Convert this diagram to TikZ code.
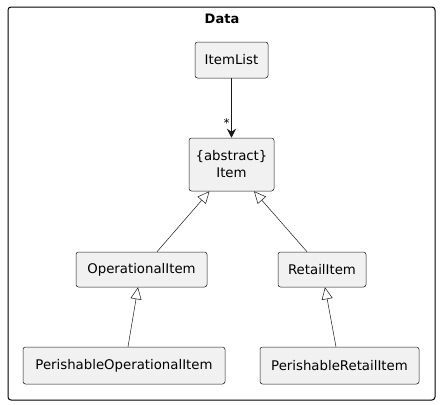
\documentclass[tikz,border=0pt]{standalone}
\usepackage{fontspec}
\setmainfont{DejaVu Sans}
\usetikzlibrary{arrows.meta}
\definecolor{boxfill}{HTML}{F1F1F1}
\definecolor{boxline}{HTML}{181818}
\begin{document}
\begin{tikzpicture}[x=1pt,y=-1pt,
  cls/.style={draw=boxline, fill=boxfill, line width=0.5pt, rounded corners=2.5pt,
    inner sep=0pt, font=\fontsize{13.3}{17}\selectfont, align=center},
  assoc/.style={draw=boxline, line width=1pt, -{Stealth[length=9pt,width=9pt,inset=3pt]}},
  inherit/.style={draw=boxline, line width=0.5pt, -{Triangle[open,length=12pt,width=11pt,fill=white]}}]
\useasboundingbox (0,0) rectangle (440,405);
\node[draw=black, line width=1pt, rounded corners=3pt, minimum width=427pt, minimum height=393pt, inner sep=0pt] (frame) at (221.5,203.5) {};
\node[font=\bfseries\fontsize{13}{15}\selectfont] (title) at (222,19) {Data};
\node[cls, minimum width=73pt, minimum height=36pt] (itemlist) at (231.5,60) {ItemList};
\node[cls, minimum width=85pt, minimum height=53pt] (item) at (231.5,164.5) {\{abstract\}\\Item};
\node[cls, minimum width=131pt, minimum height=35pt] (opi) at (141.5,269.5) {OperationalItem};
\node[cls, minimum width=88pt, minimum height=35pt] (ri) at (322,269.5) {RetailItem};
\node[cls, minimum width=202pt, minimum height=37pt] (popi) at (124,365.5) {PerishableOperationalItem};
\node[cls, minimum width=159pt, minimum height=37pt] (pri) at (339.5,365.5) {PerishableRetailItem};
\draw[assoc] (itemlist.south) -- (item.north) node[pos=0.75, left=0pt, font=\fontsize{12}{12}\selectfont, inner sep=1.5pt] (star) {*};
\draw[inherit] ([xshift=15.5pt]opi.north) -- ([xshift=-22pt]item.south);
\draw[inherit] ([xshift=-15pt]ri.north) -- ([xshift=22.5pt]item.south);
\draw[inherit] ([xshift=4pt]popi.north) -- ([xshift=-3.5pt]opi.south);
\draw[inherit] ([xshift=-3.5pt]pri.north) -- ([xshift=3pt]ri.south);
\end{tikzpicture}
\end{document}
